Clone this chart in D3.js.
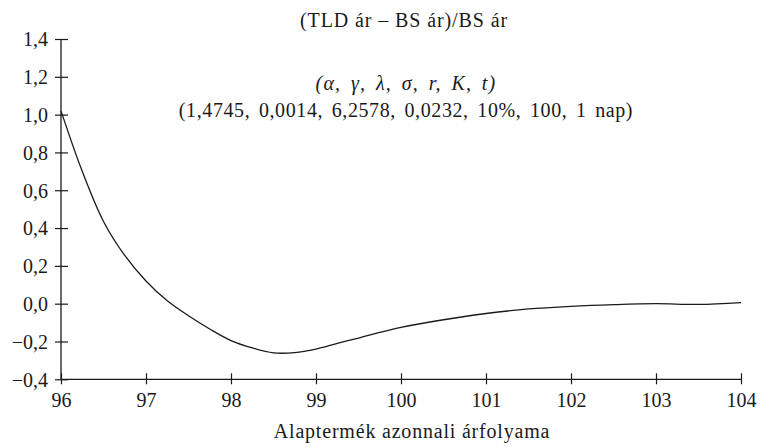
<!DOCTYPE html>
<html>
<head>
<meta charset="utf-8">
<script src="https://cdn.jsdelivr.net/npm/d3@7.9.0/dist/d3.min.js"></script>
<style>
  body { margin: 0; background: #fff; }
  svg text { font-family: "Liberation Serif", "Times New Roman", serif; fill: #1a1a1a; }
</style>
</head>
<body>
<svg width="760" height="447"></svg>
<script>
// underlying spot price and (TLD - BS)/BS relative price difference
const spotPrices = [96, 96.25, 96.5, 96.75, 97, 97.25, 97.5, 97.75, 98, 98.25, 98.5, 98.75,
  99, 99.25, 99.5, 99.75, 100, 100.5, 101, 101.5, 102, 102.5, 103, 103.5, 104];
const relDiff = [1.02, 0.70, 0.435, 0.255, 0.12, 0.015, -0.064, -0.134, -0.195, -0.234, -0.26, -0.259,
  -0.24, -0.21, -0.182, -0.152, -0.125, -0.085, -0.052, -0.028, -0.014, -0.005, 0.0, -0.004, 0.006];

const xTicks = [96, 97, 98, 99, 100, 101, 102, 103, 104];
const yTicks = [-0.4, -0.2, 0.0, 0.2, 0.4, 0.6, 0.8, 1.0, 1.2, 1.4];

const title = "(TLD ár – BS ár)/BS ár";
const paramNames = "(α, γ, λ, σ, r, K, t)";
const paramValues = "(1,4745, 0,0014, 6,2578, 0,0232, 10%, 100, 1 nap)";
const xLabel = "Alaptermék azonnali árfolyama";

const svg = d3.select("svg");
const ink = "#1a1a1a";

const x = d3.scaleLinear().domain([96, 104]).range([61, 741]);
const y = d3.scaleLinear().domain([-0.4, 1.4]).range([379.3, 39]);

const fmtY = d => d3.format(".1f")(d).replace(".", ",").replace("-", "–");

// y axis
const gy = svg.append("g")
  .attr("transform", `translate(${x(96)},0)`)
  .call(d3.axisLeft(y).tickValues(yTicks).tickFormat(fmtY).tickSize(6).tickPadding(7));
gy.select(".domain").remove();
gy.append("line").attr("x1", 0).attr("x2", 0).attr("y1", y(1.4)).attr("y2", y(-0.4))
  .attr("stroke", ink).attr("stroke-width", 1.3);
gy.selectAll(".tick line").attr("x1", 7).attr("x2", -6).attr("stroke", ink).attr("stroke-width", 1.2);
gy.selectAll(".tick text").attr("font-size", 20).attr("dy", "0.34em").attr("fill", ink);

// x axis
const gx = svg.append("g")
  .attr("transform", `translate(0,${y(-0.4)})`)
  .call(d3.axisBottom(x).tickValues(xTicks).tickFormat(d3.format("d")).tickSize(5).tickPadding(9));
gx.select(".domain").remove();
gx.append("line").attr("x1", x(96)).attr("x2", x(104)).attr("y1", 0).attr("y2", 0)
  .attr("stroke", ink).attr("stroke-width", 1.3);
gx.selectAll(".tick line").attr("y1", -6).attr("y2", 5).attr("stroke", ink).attr("stroke-width", 1.2);
gx.selectAll(".tick text").attr("font-size", 20).attr("fill", ink);

// curve
const line = d3.line()
  .x((d, i) => x(spotPrices[i]))
  .y(d => y(d))
  .curve(d3.curveCatmullRom.alpha(0.5));
svg.append("path")
  .datum(relDiff)
  .attr("d", line)
  .attr("fill", "none")
  .attr("stroke", ink)
  .attr("stroke-width", 1.3);

// texts
svg.append("text").attr("x", 404).attr("y", 27).attr("text-anchor", "middle")
  .attr("font-size", 20).attr("letter-spacing", 0.9).text(title);

svg.append("text").attr("x", 406).attr("y", 90).attr("text-anchor", "middle")
  .attr("font-size", 20).attr("font-style", "italic").attr("letter-spacing", 1.2)
  .attr("word-spacing", 3.5).text(paramNames);

svg.append("text").attr("x", 406).attr("y", 117).attr("text-anchor", "middle")
  .attr("font-size", 20).attr("letter-spacing", 0.6).attr("word-spacing", 3).text(paramValues);

svg.append("text").attr("x", 412).attr("y", 438).attr("text-anchor", "middle")
  .attr("font-size", 20).attr("letter-spacing", 0.8).text(xLabel);
</script>
</body>
</html>
